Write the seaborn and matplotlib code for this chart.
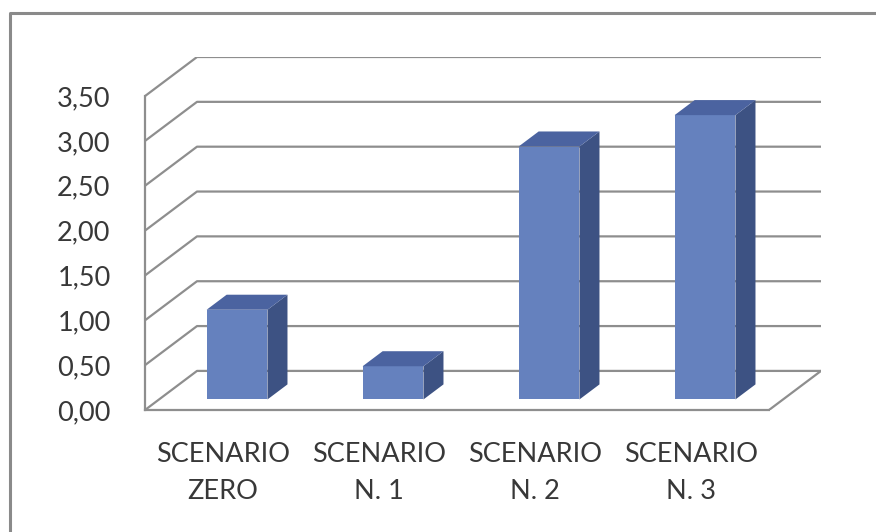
import matplotlib
matplotlib.use("Agg")
import matplotlib.pyplot as plt
import seaborn as sns
from matplotlib.patches import Polygon
from matplotlib.lines import Line2D

# dati
scenari = ["SCENARIO\nZERO", "SCENARIO\nN. 1", "SCENARIO\nN. 2", "SCENARIO\nN. 3"]
valori = [1.00, 0.37, 2.82, 3.17]
tick_valori = [0.0, 0.5, 1.0, 1.5, 2.0, 2.5, 3.0, 3.5]
tick_etichette = ["0,00", "0,50", "1,00", "1,50", "2,00", "2,50", "3,00", "3,50"]

# colori stile Excel 3D
col_fronte = "#6581BE"
col_lato = "#3D5283"
col_sopra = "#4B63A0"
col_griglia = "#8E8E8E"
col_testo = "#383838"

sns.set_style("white")
plt.rcParams['font.family'] = ['Lato', 'DejaVu Sans']

fig = plt.figure(figsize=(8.76, 5.32), dpi=100)
ax = fig.add_axes([145 / 876, 122 / 532, 676 / 876, 353 / 532])

# profondita' della parete (in unita' dati)
dx = 52 / 156
dy = 39 / 89.5
# posizione e profondita' delle barre
f0 = 0.27
fx, fy = f0 * dx, f0 * dy
bx, by = 0.385 * dx, 0.385 * dy

# griglia sulla parete di fondo
for v in tick_valori:
    ax.plot([-0.5, -0.5 + dx, 3.5 + dx], [v, v + dy, v + dy],
            color=col_griglia, lw=1.6, zorder=1, solid_capstyle='butt')
ax.plot([3.5, 3.5 + dx], [0, dy], color=col_griglia, lw=1.6, zorder=1)

sns.barplot(x=scenari, y=valori, width=0.39, color=col_fronte,
            saturation=1, ax=ax, zorder=3, linewidth=0)

for p in ax.patches:
    p.set_x(p.get_x() + fx)
    p.set_y(fy)
    x0, w, h = p.get_x(), p.get_width(), p.get_height()
    y1 = fy + h
    lato = Polygon([(x0 + w, fy), (x0 + w + bx, fy + by),
                    (x0 + w + bx, y1 + by), (x0 + w, y1)],
                   closed=True, facecolor=col_lato, edgecolor='none', zorder=3)
    sopra = Polygon([(x0, y1), (x0 + w, y1), (x0 + w + bx, y1 + by),
                     (x0 + bx, y1 + by)],
                    closed=True, facecolor=col_sopra, edgecolor='none', zorder=3)
    ax.add_patch(lato)
    ax.add_patch(sopra)

ax.set_xlim(-0.5, 3.5 + dx)
ax.set_ylim(0, 3.5 + dy)

# assi
for s in ['top', 'right']:
    ax.spines[s].set_visible(False)
ax.spines['left'].set_bounds(0, 3.5)
ax.spines['bottom'].set_bounds(-0.5, 3.5)
for s in ['left', 'bottom']:
    ax.spines[s].set_color(col_griglia)
    ax.spines[s].set_linewidth(1.6)

ax.set_yticks(tick_valori)
ax.set_yticklabels(tick_etichette, va='center_baseline')
ax.tick_params(axis='y', length=5.8, width=1.6, color=col_griglia, pad=19,
               labelsize=19.5, labelcolor=col_testo)

ax.set_xticks(range(len(scenari)))
ax.set_xticklabels(scenari, linespacing=1.6)
ax.set_xticks([-0.5, 0.5, 1.5, 2.5, 3.5], minor=True)
ax.tick_params(axis='x', which='major', length=0, pad=23,
               labelsize=19.5, labelcolor=col_testo)
ax.tick_params(axis='x', which='minor', length=5.8, width=1.6, color=col_griglia)
ax.set_xlabel('')
ax.set_ylabel('')

# cornice del grafico
xf = 10 / 876
yf = 1 - 13 / 532
fig.add_artist(Line2D([xf, xf, 1.0], [0.0, yf, yf], transform=fig.transFigure,
                      color="#8A8A8A", lw=2.2))

fig.savefig("out.png", dpi=100)
